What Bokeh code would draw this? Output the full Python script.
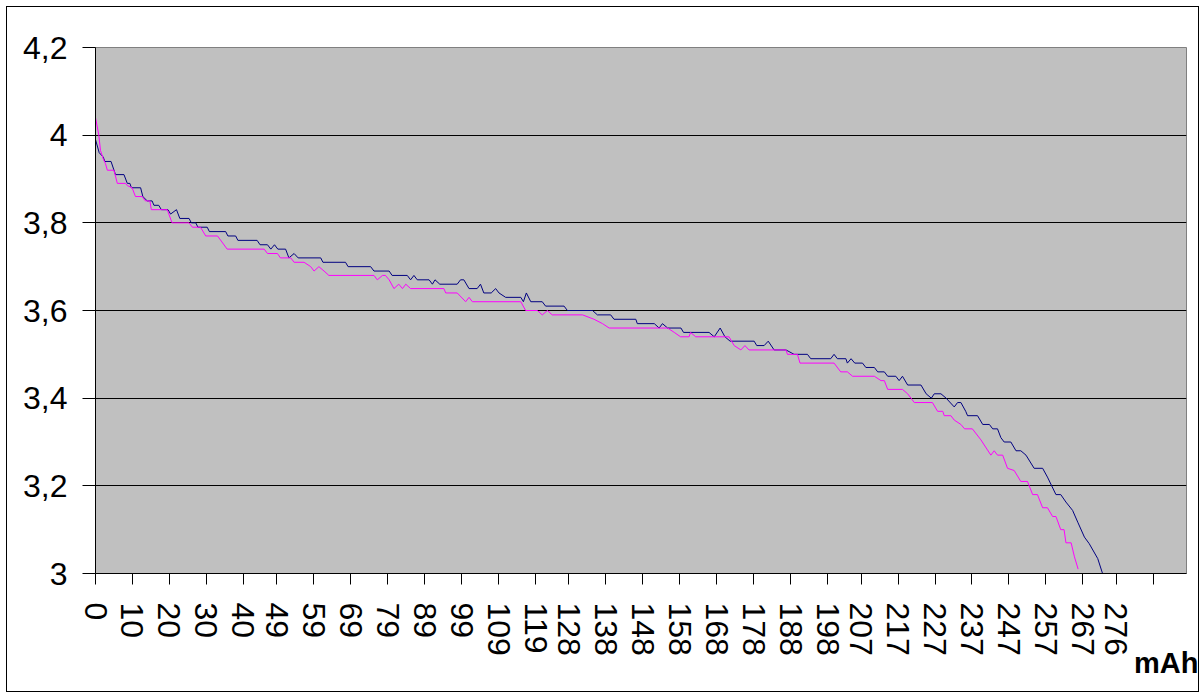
from bokeh.plotting import figure
from bokeh.models import FixedTicker, Range1d, Title
from bokeh.embed import file_html
from bokeh.resources import INLINE

# ---- data ----
x_labels = ["0", "10", "20", "30", "40", "49", "59", "69", "79", "89", "99", "109",
            "119", "128", "138", "148", "158", "168", "178", "188", "198", "207",
            "217", "227", "237", "247", "257", "267", "276"]
x_extra_tick = 286
y_ticks = [3.0, 3.2, 3.4, 3.6, 3.8, 4.0, 4.2]
y_labels = ["3", "3,2", "3,4", "3,6", "3,8", "4", "4,2"]
x_unit = "mAh"

blue_mah = [0, 1.0, 2.1, 2.5, 4.2, 5.4, 7.7, 8.6, 9.3, 9.7, 12.2, 12.8, 14.0, 15.3,
            15.8, 17.1, 17.8, 19.6, 20.3, 21.9, 22.8, 25.3, 25.9, 27.1, 27.7, 30.2,
            30.8, 35.2, 35.8, 37.9, 38.5, 43.7, 44.5, 46.5, 47.4, 48.4, 49.3, 51.4,
            52.3, 53.7, 54.8, 60.9, 61.5, 67.6, 68.3, 74.4, 75.3, 79.4, 80.2, 84.3,
            85.2, 86.1, 87.0, 90.2, 91.1, 91.8, 93.1, 97.8, 98.7, 99.6, 101.0, 103.2,
            104.1, 105.0, 107.0, 108.2, 109.1, 110.9, 115.0, 115.7, 116.5, 117.7,
            120.8, 121.7, 126.7, 127.6, 134.4, 135.7, 139.3, 140.2, 146.1, 146.5,
            151.1, 152.4, 153.3, 154.7, 158.3, 159.0, 165.9, 167.3, 168.9, 170.2,
            171.6, 178.1, 178.8, 180.8, 181.9, 183.5, 186.7, 188.9, 192.5, 193.4,
            198.8, 199.7, 200.6, 202.9, 203.3, 204.3, 205.3, 207.4, 208.3, 210.6,
            211.5, 213.3, 214.2, 216.4, 217.3, 218.2, 219.6, 223.2, 224.6, 226.0,
            226.8, 228.6, 230.0, 232.2, 233.1, 234.0, 235.3, 235.8, 238.5, 239.9,
            241.7, 242.6, 243.9, 244.8, 245.7, 247.5, 248.9, 250.2, 251.6, 253.8,
            256.1, 257.4, 259.7, 261.0, 262.4, 264.2, 265.6, 267.4, 268.7, 271.0,
            272.3]
blue_v = [3.99, 3.96, 3.95, 3.94, 3.94, 3.91, 3.91, 3.89, 3.89, 3.88, 3.88, 3.86,
          3.85, 3.85, 3.84, 3.84, 3.83, 3.83, 3.82, 3.83, 3.81, 3.81, 3.80, 3.80,
          3.79, 3.79, 3.78, 3.78, 3.77, 3.77, 3.76, 3.76, 3.75, 3.75, 3.74, 3.75,
          3.74, 3.74, 3.72, 3.73, 3.72, 3.72, 3.71, 3.71, 3.70, 3.70, 3.69, 3.69,
          3.68, 3.68, 3.67, 3.68, 3.67, 3.67, 3.66, 3.67, 3.66, 3.66, 3.67, 3.67,
          3.65, 3.65, 3.66, 3.64, 3.64, 3.65, 3.64, 3.63, 3.63, 3.62, 3.64, 3.62,
          3.62, 3.61, 3.61, 3.60, 3.60, 3.59, 3.59, 3.58, 3.58, 3.57, 3.57, 3.56,
          3.57, 3.56, 3.56, 3.55, 3.55, 3.54, 3.56, 3.54, 3.53, 3.53, 3.52, 3.52,
          3.53, 3.51, 3.51, 3.50, 3.50, 3.49, 3.49, 3.50, 3.49, 3.49, 3.48, 3.49,
          3.48, 3.48, 3.47, 3.47, 3.46, 3.46, 3.45, 3.45, 3.44, 3.45, 3.43, 3.43,
          3.41, 3.40, 3.41, 3.41, 3.40, 3.38, 3.39, 3.39, 3.37, 3.36, 3.36, 3.34,
          3.34, 3.33, 3.33, 3.31, 3.30, 3.30, 3.28, 3.28, 3.27, 3.24, 3.24, 3.22,
          3.18, 3.18, 3.163, 3.144, 3.117, 3.083, 3.068, 3.034, 3.0]

magenta_mah = [0, 0.9, 1.35, 2.1, 2.7, 3.2, 5.0, 5.9, 8.1, 8.6, 9.9, 10.8, 12.6,
               13.5, 14.7, 15.1, 19.4, 20.7, 25.3, 26.2, 28.4, 29.8, 33.0, 35.6,
               45.6, 46.5, 49.2, 50.0, 52.8, 53.7, 56.4, 58.2, 59.1, 60.4, 61.8,
               63.1, 75.3, 76.2, 77.6, 78.4, 79.4, 80.7, 82.0, 83.0, 83.9, 85.2,
               94.2, 94.7, 97.8, 100.1, 101.0, 101.9, 115.0, 116.3, 119.5, 120.8,
               122.2, 123.5, 131.7, 134.8, 137.1, 138.9, 154.7, 156.5, 158.2, 160.5,
               160.9, 162.3, 171.3, 172.7, 174.5, 175.6, 176.7, 186.7, 187.1, 189.8,
               190.5, 199.7, 201.5, 203.3, 204.7, 210.6, 212.4, 213.3, 214.2, 218.2,
               219.6, 221.4, 226.3, 227.7, 229.1, 229.5, 231.3, 232.2, 234.0, 235.0,
               237.1, 239.4, 242.1, 243.0, 243.9, 245.3, 246.6, 248.4, 250.2, 252.0,
               253.4, 254.7, 256.1, 257.4, 258.8, 259.7, 261.0, 261.9, 262.4, 263.8,
               264.7, 265.7]
magenta_v = [4.04, 4.00, 3.965, 3.946, 3.935, 3.92, 3.92, 3.89, 3.89, 3.885, 3.88,
             3.86, 3.86, 3.85, 3.85, 3.83, 3.83, 3.80, 3.80, 3.79, 3.79, 3.77, 3.77,
             3.74, 3.74, 3.73, 3.73, 3.72, 3.72, 3.71, 3.71, 3.70, 3.69, 3.70, 3.69,
             3.68, 3.68, 3.67, 3.68, 3.68, 3.67, 3.65, 3.66, 3.65, 3.66, 3.65, 3.65,
             3.64, 3.64, 3.62, 3.63, 3.62, 3.62, 3.60, 3.60, 3.59, 3.60, 3.59, 3.59,
             3.58, 3.57, 3.56, 3.56, 3.55, 3.54, 3.54, 3.55, 3.54, 3.54, 3.52, 3.51,
             3.52, 3.51, 3.51, 3.50, 3.50, 3.48, 3.48, 3.46, 3.46, 3.45, 3.45, 3.44,
             3.44, 3.42, 3.42, 3.41, 3.39, 3.39, 3.37, 3.37, 3.36, 3.36, 3.35, 3.34,
             3.33, 3.33, 3.305, 3.27, 3.28, 3.27, 3.27, 3.24, 3.235, 3.21, 3.21, 3.18,
             3.18, 3.15, 3.15, 3.13, 3.13, 3.10, 3.10, 3.07, 3.07, 3.038, 3.01]

FONT = "Liberation Sans"

p = figure(width=1193, height=686, output_backend="svg", toolbar_location=None,
           x_range=Range1d(0, 295), y_range=Range1d(3.0, 4.2),
           min_border_left=88, min_border_right=14, min_border_top=40,
           min_border_bottom=120)
p.styles = {"border": "1px solid black", "margin": "6px 0px 0px 6px"}
p.background_fill_color = "#C0C0C0"
p.border_fill_color = "white"
p.outline_line_color = "#808080"
p.outline_line_width = 1

p.line(blue_mah, blue_v, line_color="#000080", line_width=1)
p.line(magenta_mah, magenta_v, line_color="#FF00FF", line_width=1)

# x axis
x_pos = [int(s) for s in x_labels]
p.xaxis.ticker = FixedTicker(ticks=x_pos + [x_extra_tick])
overrides = {v: s for v, s in zip(x_pos, x_labels)}
overrides[x_extra_tick] = ""
p.xaxis.major_label_overrides = overrides
p.xaxis.major_label_orientation = "vertical"
p.xaxis.major_tick_in = 0
p.xaxis.major_tick_out = 11
p.xaxis.minor_tick_line_color = None
p.xaxis.axis_line_color = "black"
p.xaxis.major_tick_line_color = "black"
p.xaxis.major_label_text_font = FONT
p.xaxis.major_label_text_font_size = "32px"
p.xaxis.major_label_text_color = "black"
p.xaxis.major_label_standoff = 18

# y axis
p.yaxis.ticker = FixedTicker(ticks=y_ticks)
p.yaxis.major_label_overrides = {v: s for v, s in zip(y_ticks, y_labels)}
p.yaxis.major_tick_in = 0
p.yaxis.major_tick_out = 13
p.yaxis.minor_tick_line_color = None
p.yaxis.axis_line_color = "black"
p.yaxis.major_tick_line_color = "black"
p.yaxis.major_label_text_font = FONT
p.yaxis.major_label_text_font_size = "32px"
p.yaxis.major_label_text_color = "black"
p.yaxis.major_label_standoff = 15

p.xgrid.grid_line_color = None
p.ygrid.ticker = FixedTicker(ticks=y_ticks[1:-1])
p.ygrid.grid_line_color = "black"
p.ygrid.grid_line_width = 1

unit_title = Title(text=x_unit, align="right", offset=-12, standoff=-27,
                   text_font=FONT, text_font_style="bold",
                   text_font_size="29px", text_color="black")
p.add_layout(unit_title, "below")

open("out.html", "w").write(file_html(p, INLINE))
